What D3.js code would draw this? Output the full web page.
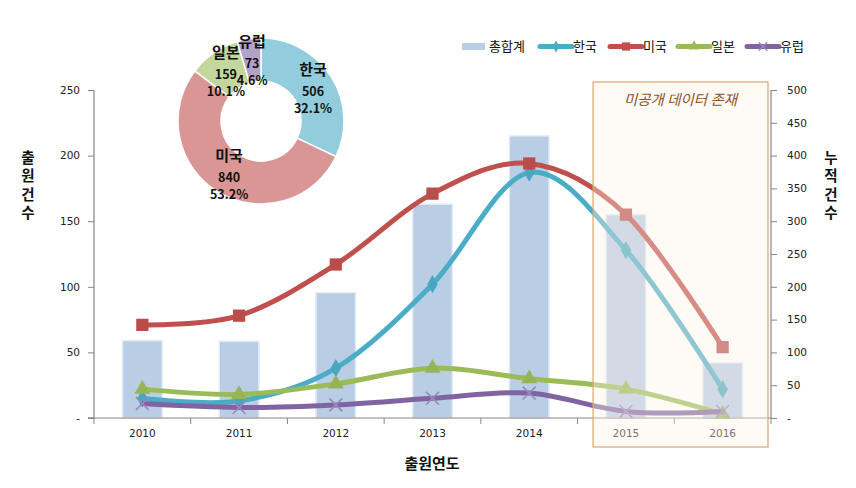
<!DOCTYPE html>
<html><head><meta charset="utf-8">
<script src="https://cdn.jsdelivr.net/npm/d3@7"></script>
<style>body{margin:0;background:#fff}svg{display:block}</style>
</head><body><svg id="c" width="856" height="488"></svg>
<script>
// ---- data ----
const years = ["2010","2011","2012","2013","2014","2015","2016"];
const totals = [118,117,191,326,430,310,84];      // 총합계 (right axis)
const korea  = [15,13,38,102,187,128,22];         // 한국 (left axis)
const usa    = [71,78,117,171,194,155,54];        // 미국
const japan  = [22,18,26,38,30,22,3];             // 일본
const europe = [11,8,10,15,19,5,5];               // 유럽
const leftTicks  = [0,50,100,150,200,250];
const rightTicks = [0,50,100,150,200,250,300,350,400,450,500];
const pieNames   = ["한국","미국","일본","유럽"];
const pieValues  = [506,840,159,73];
const piePercent = ["32.1%","53.2%","10.1%","4.6%"];
const legendLabels = ["총합계","한국","미국","일본","유럽"];
const boxYears = ["2015","2016"];
const boxText = "미공개 데이터 존재";

// ---- layout ----
const svg = d3.select("#c");
const L = 94, R = 771, T = 90, B = 418;
const fontK = "'Noto Sans CJK KR','Noto Sans',sans-serif";
const fontN = "'DejaVu Sans',Verdana,sans-serif";

const x = d3.scaleBand().domain(years).range([L, R]).padding(0);
const yL = d3.scaleLinear().domain([0,250]).range([B, T]);
const yR = d3.scaleLinear().domain([0,500]).range([B, T]);
const cx = d => x(d) + x.bandwidth()/2;

// bars
const bw = x.bandwidth()*0.41;
svg.append("g").selectAll("rect").data(years).join("rect")
  .attr("x", (d)=>cx(d)-bw/2)
  .attr("y", (d,i)=>yR(totals[i]))
  .attr("width", bw)
  .attr("height", (d,i)=>B - yR(totals[i]))
  .attr("fill", "#b9cde5")
  .attr("stroke", "#e3ebf5").attr("stroke-width", 1.5);

// axes
const axisCol = "#868686";
const gL = svg.append("g").attr("transform", `translate(${L},0)`)
  .call(d3.axisLeft(yL).tickValues(leftTicks).tickSize(6).tickPadding(8)
    .tickFormat(v => v===0 ? "-" : v));
const gR = svg.append("g").attr("transform", `translate(${R},0)`)
  .call(d3.axisRight(yR).tickValues(rightTicks).tickSize(6).tickPadding(10)
    .tickFormat(v => v===0 ? "-" : v));
const gB = svg.append("g").attr("transform", `translate(0,${B})`)
  .call(d3.axisBottom(x).tickSize(0).tickPadding(12));
const bounds = years.map(d=>x(d)).concat([x(years[years.length-1])+x.bandwidth()]);
gB.selectAll("line.bt").data(bounds).join("line").attr("class","bt")
  .attr("x1", d=>d).attr("x2", d=>d).attr("y1",0).attr("y2",6)
  .attr("stroke", axisCol);
[gL,gR,gB].forEach(g=>{
  g.select(".domain").attr("stroke", axisCol).attr("stroke-width",1.2);
  g.selectAll(".tick line").attr("stroke", axisCol);
  g.selectAll("text").attr("font-family", fontN).attr("font-size", 10.5).attr("fill", "#222");
});
gL.select(".domain").attr("d", `M0,${T}V${B}H-6`);
gR.select(".domain").attr("d", `M0,${T}V${B}`);
gB.select(".domain").attr("d", `M${L-6},0H${R}`);

// lines
const series = [
  {name:"한국", data:korea,  color:"#4bacc6", sym:d3.symbolDiamond, size:95, stroke:false},
  {name:"미국", data:usa,    color:"#c0504d", sym:d3.symbolSquare,  size:150, stroke:false},
  {name:"일본", data:japan,  color:"#9bbb59", sym:d3.symbolTriangle,size:110, stroke:false},
  {name:"유럽", data:europe, color:"#8064a2", sym:d3.symbolX,       size:110, stroke:true}
];
const line = d3.line().x((d,i)=>cx(years[i])).y(d=>yL(d)).curve(d3.curveCatmullRom.alpha(0));
series.forEach(s=>{
  const g = svg.append("g");
  g.append("path").attr("d", line(s.data)).attr("fill","none")
    .attr("stroke", s.color).attr("stroke-width", 5).attr("stroke-linecap","round");
  g.selectAll("path.m").data(s.data).join("path").attr("class","m")
    .attr("transform",(d,i)=>`translate(${cx(years[i])},${yL(d)})`)
    .attr("d", d3.symbol(s.sym, s.size)())
    .attr("fill", s.stroke ? "none" : d3.color(s.color).darker(0.1))
    .attr("stroke", s.stroke ? "#9a88bd" : "none").attr("stroke-width", 1.6);
});

// unpublished data box
const bx0 = x(boxYears[0]) + x.bandwidth()*0.16, bx1 = x(boxYears[1]) + x.bandwidth() - 3;
svg.append("rect").attr("x", bx0).attr("y", 82).attr("width", bx1-bx0).attr("height", 447-82)
  .attr("fill", "#fdf1e4").attr("fill-opacity", 0.38)
  .attr("stroke", "#dca56f").attr("stroke-width", 1.2);
svg.append("text").attr("x", (bx0+bx1)/2).attr("y", 105).attr("text-anchor","middle")
  .attr("font-family", fontK).attr("font-size", 14.5).attr("font-style","italic")
  .attr("fill", "#93521f").text(boxText);

// axis titles (vertical, stacked characters)
function vtitle(xp, txt){
  svg.append("text").attr("x", xp).attr("y", 150)
    .attr("font-family", fontK).attr("font-size", 14.5).attr("font-weight","bold")
    .attr("fill","#111")
    .style("writing-mode","vertical-rl").style("text-orientation","upright")
    .style("letter-spacing","4px")
    .text(txt);
}
vtitle(28, "출원건수");
vtitle(831, "누적건수");
svg.append("text").attr("x", 432).attr("y", 469).attr("text-anchor","middle")
  .attr("font-family", fontK).attr("font-size", 15).attr("font-weight","bold")
  .attr("fill","#111").text("출원연도");

// legend
const lg = svg.append("g").attr("font-family", fontK).attr("font-size", 13).attr("fill","#111");
const legX = [462, 540, 610, 678, 747];
lg.append("rect").attr("x", legX[0]).attr("y", 43).attr("width", 23).attr("height", 7).attr("fill", "#b9cde5");
lg.append("text").attr("x", legX[0]+27).attr("y", 51).text(legendLabels[0]);
series.forEach((s,i)=>{
  const x0 = legX[i+1];
  lg.append("line").attr("x1", x0).attr("x2", x0+32).attr("y1", 46.5).attr("y2", 46.5)
    .attr("stroke", s.color).attr("stroke-width", 5).attr("stroke-linecap","round");
  lg.append("path").attr("transform", `translate(${x0+16},46.5)`)
    .attr("d", d3.symbol(s.sym, s.size*0.45)())
    .attr("fill", s.stroke ? "none" : s.color)
    .attr("stroke", s.stroke ? "#9a88bd" : "none").attr("stroke-width", 1.3);
  lg.append("text").attr("x", x0+33).attr("y", 51).text(legendLabels[i+1]);
});

// donut
const pcx = 261, pcy = 121, rO = 83, rI = 40;
const pieCols = ["#93cddd","#d99694","#c3d69b","#b3a2c7"];
const arcs = d3.pie().sort(null)(pieValues);
const arc = d3.arc().innerRadius(rI).outerRadius(rO);
const labArc = d3.arc().innerRadius(61.5).outerRadius(61.5);
const pg = svg.append("g").attr("transform", `translate(${pcx},${pcy})`);
pg.selectAll("path").data(arcs).join("path").attr("d", arc)
  .attr("fill", (d,i)=>pieCols[i]).attr("stroke","#fff").attr("stroke-width",1.5);
arcs.forEach((a,i)=>{
  const [lx, ly] = labArc.centroid(a);
  const t = pg.append("text").attr("text-anchor","middle").attr("font-family", fontK)
    .attr("font-weight","bold").attr("fill","#111");
  t.append("tspan").attr("x", lx).attr("y", ly-13).attr("font-size", 15).text(pieNames[i]);
  t.append("tspan").attr("x", lx).attr("y", ly+8).attr("font-size", 12.5).text(pieValues[i]);
  t.append("tspan").attr("x", lx).attr("y", ly+25).attr("font-size", 12.5).text(piePercent[i]);
});
</script></body></html>
